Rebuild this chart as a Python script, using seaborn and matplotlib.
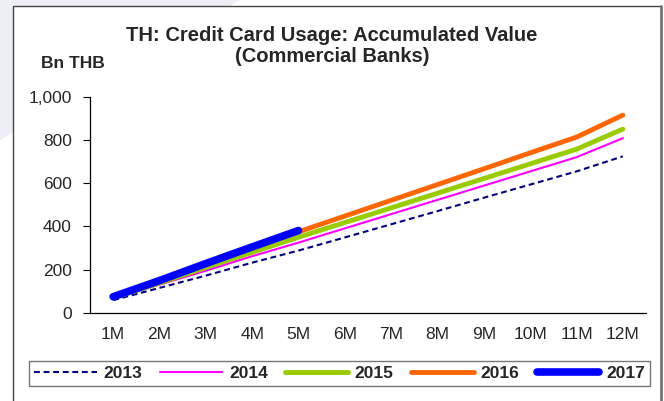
import pandas as pd
import matplotlib.pyplot as plt
import seaborn as sns
from matplotlib.patches import Rectangle, Polygon
from matplotlib.ticker import FixedLocator

# 데이터 (Bn THB, 누적)
months = ['1M', '2M', '3M', '4M', '5M', '6M', '7M', '8M', '9M', '10M', '11M', '12M']
v2013 = [58, 115, 172, 232, 288, 349, 410, 471, 533, 594, 655, 725]
v2014 = [65, 130, 195, 262, 325, 391, 457, 523, 589, 655, 721, 809]
v2015 = [68, 138, 210, 280, 350, 418, 486, 554, 622, 690, 758, 851]
v2016 = [72, 148, 225, 300, 375, 448, 521, 594, 667, 741, 814, 916]
v2017 = [74, 149, 228, 305, 381]
years = ['2013', '2014', '2015', '2016', '2017']

sns.set_style('white')
plt.rcParams['font.family'] = ['Liberation Sans', 'DejaVu Sans']

W, H = 664, 401
fig = plt.figure(figsize=(W / 100, H / 100), dpi=100)

# 배경 장식 + 바깥 테두리
fig.patches.append(Polygon([(0, 1), (240 / W, 1), (0, 1 - 140 / H)], closed=True,
                           transform=fig.transFigure, facecolor='#eeeef7', edgecolor='none', zorder=0))
fig.patches.append(Rectangle((13 / W, -0.05), 648 / W, 1.05 - 6 / H, transform=fig.transFigure,
                             facecolor='white', edgecolor='#444444', linewidth=1.0, zorder=1))
fig.lines.append(plt.Line2D([661 / W, 661 / W], [0, 1 - 6 / H], transform=fig.transFigure,
                            color='#777777', linewidth=2, zorder=2))

ax = fig.add_axes([90 / W, 1 - 312.7 / H, (646 - 90) / W, (312.7 - 97) / H])
ax.set_zorder(3)
ax.patch.set_alpha(0)

styles = {
    '2013': dict(color='#000080', linewidth=1.5, dashes=(2.8, 1.8)),
    '2014': dict(color='#FF00FF', linewidth=1.5),
    '2015': dict(color='#99CC00', linewidth=3.5),
    '2016': dict(color='#FF6600', linewidth=3.5),
    '2017': dict(color='#0000FF', linewidth=5.5, solid_capstyle='round'),
}
series = [v2013, v2014, v2015, v2016, v2017]

for yr, vals in zip(years, series):
    st = dict(styles[yr])
    dashes = st.pop('dashes', None)
    sns.lineplot(x=months[:len(vals)], y=vals, ax=ax, label=yr, sort=False, **st)
    if dashes:
        ax.lines[-1].set_dashes(dashes)

ax.set_xlim(-0.5, 11.5)
ax.set_ylim(0, 1000)
ax.set_yticks(range(0, 1001, 200))
ax.set_yticklabels([f'{v:,}' for v in range(0, 1001, 200)])
ax.xaxis.set_minor_locator(FixedLocator([i + 0.5 for i in range(-1, 12)]))
ax.tick_params(axis='x', which='major', length=0, pad=10, labelsize=12.5)
ax.tick_params(axis='x', which='minor', direction='in', length=5, width=0.8, color='black')
ax.tick_params(axis='y', direction='out', length=5, width=0.8, color='black', pad=8, labelsize=12.5, left=True)
ax.set_xlabel('')
ax.set_ylabel('')
for s in ['top', 'right']:
    ax.spines[s].set_visible(False)
for s in ['left', 'bottom']:
    ax.spines[s].set_color('black')
    ax.spines[s].set_linewidth(0.9)

ax.get_legend().remove()
handles, labels = ax.get_legend_handles_labels()
leg = fig.legend(handles, labels, loc='center', bbox_to_anchor=(339.5 / W, 1 - 373.5 / H), ncol=5,
                 frameon=True, fancybox=False, handlelength=3.6, columnspacing=1.0, handletextpad=0.4,
                 prop={'weight': 'bold', 'size': 12.5}, borderpad=0.3)
leg.get_frame().set_edgecolor('#555555')
leg.get_frame().set_linewidth(1.0)
leg.set_zorder(4)

# 제목
fig.text(332 / W, 1 - 41 / H, 'TH: Credit Card Usage: Accumulated Value', ha='center', va='baseline',
         fontsize=14.5, fontweight='bold', zorder=5)
fig.text(332 / W, 1 - 62 / H, '(Commercial Banks)', ha='center', va='baseline',
         fontsize=14.5, fontweight='bold', zorder=5)
fig.text(41 / W, 1 - 68 / H, 'Bn THB', ha='left', va='baseline', fontsize=12.5, fontweight='bold', zorder=5)

plt.savefig('out.png', dpi=100)
